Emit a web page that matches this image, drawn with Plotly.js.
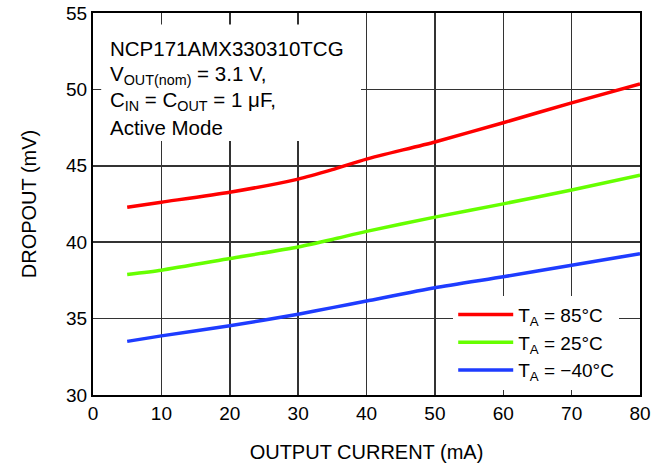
<!DOCTYPE html>
<html><head><meta charset="utf-8">
<script src="https://cdn.plot.ly/plotly-3.0.1.min.js"></script>
<style>html,body{margin:0;padding:0;background:#fff;}#chart{width:661px;height:467px;}</style>
</head><body><div id="chart"></div>
<script>
const current = [5, 10, 20, 30, 35, 40, 50, 60, 70, 80];
const dropout85 = [42.29, 42.62, 43.27, 44.13, 44.75, 45.44, 46.56, 47.82, 49.12, 50.36];
const dropout25 = [37.89, 38.17, 38.93, 39.69, 40.18, 40.71, 41.64, 42.51, 43.42, 44.39];
const dropoutM40 = [33.51, 33.87, 34.53, 35.29, 35.72, 36.15, 37.02, 37.74, 38.49, 39.25];
const seriesNames = ["T<sub>A</sub> = 85°C", "T<sub>A</sub> = 25°C", "T<sub>A</sub> = −40°C"];
const seriesColors = ["#ff0000", "#66ff00", "#1e3cff"];
const xTicks = [0, 10, 20, 30, 40, 50, 60, 70, 80];
const yTicks = [30, 35, 40, 45, 50, 55];
const noteLines = ["NCP171AMX330310TCG", "V<sub>OUT(nom)</sub> = 3.1 V,", "C<sub>IN</sub> = C<sub>OUT</sub> = 1 μF,", "Active Mode"];

const F = "Liberation Sans, Arial, Helvetica, sans-serif";
const ys = [dropout85, dropout25, dropoutM40];
const traces = ys.map((y, i) => ({
  x: current, y: y, type: "scatter", mode: "lines", name: seriesNames[i],
  line: {color: seriesColors[i], width: 3.5, shape: "spline", smoothing: 0.6}
}));

const annotations = noteLines.map((t, i) => ({
  xref: "paper", yref: "paper", x: 0.027, y: 0.908 - i * 0.069,
  xanchor: "left", yanchor: "middle", showarrow: false, text: t,
  font: {family: F, size: 20.5, color: "#000"}
}));

const layout = {
  width: 661, height: 467,
  margin: {l: 93, r: 21, t: 13, b: 72},
  paper_bgcolor: "#fff", plot_bgcolor: "#fff",
  font: {family: F, size: 20, color: "#000"},
  xaxis: {
    range: [0, 80], tickvals: xTicks, ticktext: xTicks.map(String),
    showgrid: true, gridcolor: "#333", gridwidth: 1.5,
    showline: true, linecolor: "#000", linewidth: 2, mirror: true,
    ticks: "", zeroline: false, tickfont: {family: F, size: 19},
    title: {text: "OUTPUT CURRENT (mA)", font: {family: F, size: 20}, standoff: 22}
  },
  yaxis: {
    range: [30, 55], tickvals: yTicks, ticktext: yTicks.map(String),
    showgrid: true, gridcolor: "#333", gridwidth: 1.5,
    showline: true, linecolor: "#000", linewidth: 2, mirror: true,
    ticks: "", zeroline: false, tickfont: {family: F, size: 19},
    title: {text: "DROPOUT (mV)", font: {family: F, size: 20}, standoff: 24}
  },
  showlegend: true,
  legend: {
    x: 0.962, xanchor: "right", y: 0.014, yanchor: "bottom",
    bgcolor: "#fff", borderwidth: 0, tracegroupgap: 0, itemwidth: 55,
    font: {family: F, size: 19}
  },
  shapes: [{
    type: "rect", xref: "paper", yref: "paper", layer: "above",
    x0: 0.015, x1: 0.49, y0: 0.665, y1: 0.97,
    fillcolor: "#fff", line: {width: 0}
  }],
  annotations: annotations
};
Plotly.newPlot("chart", traces, layout, {displayModeBar: false, staticPlot: true});
</script></body></html>
